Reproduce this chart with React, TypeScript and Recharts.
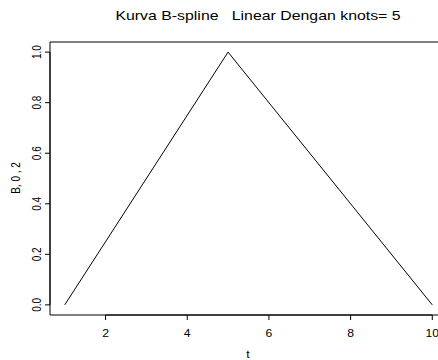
import { LineChart, Line, XAxis, YAxis, ReferenceArea, ReferenceLine } from 'recharts'

const tValues = [1, 5, 10]
const bValues = [0, 1, 0]
const xTicks = [2, 4, 6, 8, 10]
const yTicks = [0, 0.2, 0.4, 0.6, 0.8, 1.0]
const xDomain = [0.64, 10.36]
const yDomain = [-0.04, 1.04]

const title = 'Kurva B-spline   Linear Dengan knots= 5'
const xLabel = 't'
const yLabel = 'B, 0 , 2'

const FONT = '"Liberation Sans", Arial, sans-serif'
const SX = 1.22 // the reference is stretched a little sideways

const data = tValues.map((t, i) => ({ t, b: bValues[i] }))

const XTick = ({ x, y, payload }: any) => (
  <text
    transform={`translate(${x},${y + 17}) scale(${SX},1)`}
    textAnchor="middle"
    fontSize={10}
    fontFamily={FONT}
    fill="#000"
  >
    {payload.value}
  </text>
)

const YTick = ({ x, y, payload }: any) => (
  <text
    transform={`translate(${x - 8},${y}) scale(${SX},1) rotate(-90)`}
    textAnchor="middle"
    dy="0.35em"
    fontSize={10}
    fontFamily={FONT}
    fill="#000"
  >
    {Number(payload.value).toFixed(1)}
  </text>
)

export default function App() {
  return (
    <div style={{ position: 'fixed', left: 0, top: 0, width: 438, height: 360, overflow: 'hidden', background: '#fff' }}>
      <LineChart width={460} height={360} data={data} margin={{ top: 42, right: 13, bottom: 0, left: 0 }}>
        <XAxis
          dataKey="t"
          type="number"
          domain={xDomain}
          ticks={xTicks}
          allowDataOverflow
          height={45}
          axisLine={false}
          tickLine={{ stroke: '#000' }}
          tickSize={5}
          tickMargin={0}
          tick={<XTick />}
        />
        <YAxis
          type="number"
          domain={yDomain}
          ticks={yTicks}
          allowDataOverflow
          width={50}
          axisLine={false}
          tickLine={{ stroke: '#000' }}
          tickSize={5}
          tickMargin={0}
          tick={<YTick />}
        />
        <ReferenceArea
          x1={xDomain[0]}
          x2={xDomain[1]}
          y1={yDomain[0]}
          y2={yDomain[1]}
          fill="none"
          stroke="#000"
          strokeWidth={1}
        />
        <ReferenceLine
          segment={[{ x: xTicks[0], y: yDomain[0] }, { x: xTicks[xTicks.length - 1], y: yDomain[0] }]}
          stroke="#000"
        />
        <ReferenceLine
          segment={[{ x: xDomain[0], y: yTicks[0] }, { x: xDomain[0], y: yTicks[yTicks.length - 1] }]}
          stroke="#000"
        />
        <Line
          type="linear"
          dataKey="b"
          stroke="#000"
          strokeWidth={1}
          dot={false}
          isAnimationActive={false}
        />
      </LineChart>
      <svg width={438} height={360} style={{ position: 'absolute', left: 0, top: 0, pointerEvents: 'none' }}>
        <text
          transform={`translate(258,20) scale(${SX},1)`}
          textAnchor="middle"
          fontSize={13}
          fontFamily={FONT}
          fill="#000"
          style={{ whiteSpace: 'pre' }}
        >
          {title}
        </text>
        <text
          transform={`translate(248,358) scale(${SX},1)`}
          textAnchor="middle"
          fontSize={10}
          fontFamily={FONT}
          fill="#000"
        >
          {xLabel}
        </text>
        <text
          transform={`translate(16,178) scale(${SX},1) rotate(-90)`}
          textAnchor="middle"
          dy="0.35em"
          fontSize={10}
          fontFamily={FONT}
          fill="#000"
        >
          {yLabel}
        </text>
      </svg>
    </div>
  )
}
